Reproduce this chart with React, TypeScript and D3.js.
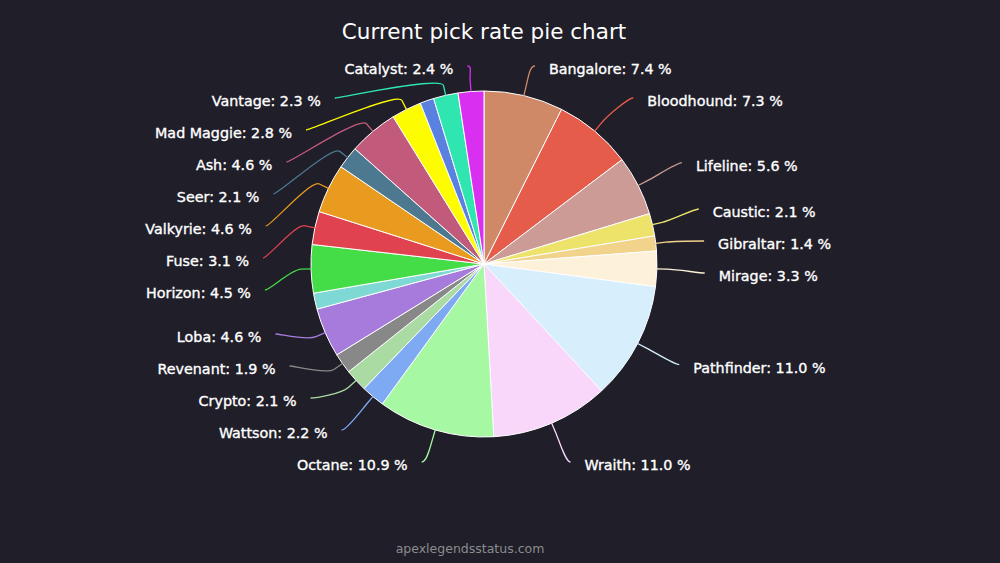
import * as d3 from "d3";

// pick rates, clockwise from 12 o'clock
const legends = [
  "Bangalore", "Bloodhound", "Lifeline", "Caustic", "Gibraltar", "Mirage",
  "Pathfinder", "Wraith", "Octane", "Wattson", "Crypto", "Revenant", "Loba",
  "Newcastle", "Horizon", "Fuse", "Valkyrie", "Seer", "Ash", "Mad Maggie",
  "Rampart", "Vantage", "Catalyst",
];
const pickRates = [
  7.4, 7.3, 5.6, 2.1, 1.4, 3.3, 11.0, 11.0, 10.9, 2.2, 2.1, 1.9, 4.6,
  1.5, 4.5, 3.1, 4.6, 2.1, 4.6, 2.8, 1.3, 2.3, 2.4,
];
const sliceColors = [
  "#cf8966", "#e65c4b", "#cc9b96", "#ede36b", "#f2d38b", "#fdf1da",
  "#d7eefd", "#f9d7fb", "#a6f9a2", "#7eaaf4", "#aadba2", "#888888", "#a77bdb",
  "#7ed8d4", "#44dc47", "#e0434f", "#e89b1f", "#4c7890", "#c25b7b", "#fefc00",
  "#5a80e0", "#30e6b0", "#d92ff0",
];
// labels that don't fit and are dropped
const hiddenLabels = ["Newcastle", "Rampart"];

const width = 1000;
const height = 563;
const cx = 484;
const cy = 264;
const radius = 173;
const labelRadius = 221;
const labelTop = 69;
const labelBottom = 465;
const labelStep = 32;

type Label = {
  name: string;
  value: number;
  color: string;
  mid: number;
  left: boolean;
  target: number;
  y: number;
};

// push overlapping labels apart, roughly like highcharts does
function distribute(items: Label[]) {
  items.sort((a, b) => a.target - b.target);
  let groups = items.map((it) => ({ items: [it], pos: 0 }));
  const place = (g) => {
    const ts = g.items.map((i) => i.target);
    const mid = (Math.min(...ts) + Math.max(...ts)) / 2;
    const span = (g.items.length - 1) * labelStep;
    g.pos = Math.max(labelTop, Math.min(labelBottom - span, mid - span / 2));
  };
  groups.forEach(place);
  let merged = true;
  while (merged) {
    merged = false;
    for (let i = 1; i < groups.length; i++) {
      const a = groups[i - 1];
      const b = groups[i];
      if (a.pos + a.items.length * labelStep > b.pos + 0.01) {
        a.items = a.items.concat(b.items);
        place(a);
        groups.splice(i, 1);
        merged = true;
        break;
      }
    }
  }
  groups.forEach((g) => g.items.forEach((it, k) => (it.y = g.pos + k * labelStep)));
}

export default function App() {
  const data = legends.map((name, i) => ({
    name,
    value: pickRates[i],
    color: sliceColors[i],
  }));

  const arcs = d3
    .pie<any>()
    .sort(null)
    .value((d) => d.value)(data);

  const arc = d3.arc<any>().innerRadius(0).outerRadius(radius);

  const labels: Label[] = arcs
    .filter((a) => !hiddenLabels.includes(a.data.name))
    .map((a) => {
      const mid = (a.startAngle + a.endAngle) / 2;
      return {
        name: a.data.name,
        value: a.data.value,
        color: a.data.color,
        mid,
        left: Math.sin(mid) < 0,
        target: cy + 2 - labelRadius * Math.cos(mid),
        y: 0,
      };
    });
  distribute(labels.filter((l) => !l.left));
  distribute(labels.filter((l) => l.left));

  const pt = (angle: number, r: number) => [
    cx + r * Math.sin(angle),
    cy - r * Math.cos(angle),
  ];

  return (
    <svg
      width={width}
      height={height}
      style={{ position: "absolute", left: 0, top: 0, background: "#1f1e29" }}
      fontFamily="'DejaVu Sans', sans-serif"
    >
      <rect width={width} height={height} fill="#1f1e29" />
      <text
        x={cx}
        y={31}
        textAnchor="middle"
        dominantBaseline="central"
        fill="#ffffff"
        fontSize={21.5}
      >
        Current pick rate pie chart
      </text>

      {/* slices */}
      <g transform={`translate(${cx},${cy})`}>
        {arcs.map((a) => (
          <path
            key={a.data.name}
            d={arc(a)}
            fill={a.data.color}
            stroke="#ffffff"
            strokeWidth={1}
            strokeLinejoin="round"
          />
        ))}
      </g>

      {/* labels + connectors */}
      {labels.map((l) => {
        const atEdge = l.y <= labelTop + 2 || l.y >= labelBottom - 2;
        const dy = (atEdge ? l.target - 2 : l.y) - cy;
        const dx = Math.sqrt(Math.max(0, labelRadius ** 2 - dy ** 2));
        const x = l.left ? cx - dx : cx + dx;
        const ly = l.y - 3;
        const touch = pt(l.mid, radius);
        const brk = pt(l.mid, radius + 10);
        const path = d3.path();
        path.moveTo(x, ly);
        path.bezierCurveTo(
          x + (l.left ? 5 : -5),
          ly,
          2 * brk[0] - touch[0],
          2 * brk[1] - touch[1],
          brk[0],
          brk[1]
        );
        path.lineTo(touch[0], touch[1]);
        return (
          <g key={l.name}>
            <path d={path.toString()} fill="none" stroke={l.color} strokeWidth={1.3} />
            <text
              x={l.left ? x - 14 : x + 14}
              y={l.y}
              textAnchor={l.left ? "end" : "start"}
              dominantBaseline="central"
              fill="#ffffff"
              stroke="#ffffff"
              strokeWidth={0.35}
              fontSize={14.3}
            >
              {`${l.name}: ${l.value.toFixed(1)} %`}
            </text>
          </g>
        );
      })}

      <text
        x={470}
        y={548}
        textAnchor="middle"
        dominantBaseline="central"
        fill="#8c8c8c"
        fontSize={12.5}
      >
        apexlegendsstatus.com
      </text>
    </svg>
  );
}
